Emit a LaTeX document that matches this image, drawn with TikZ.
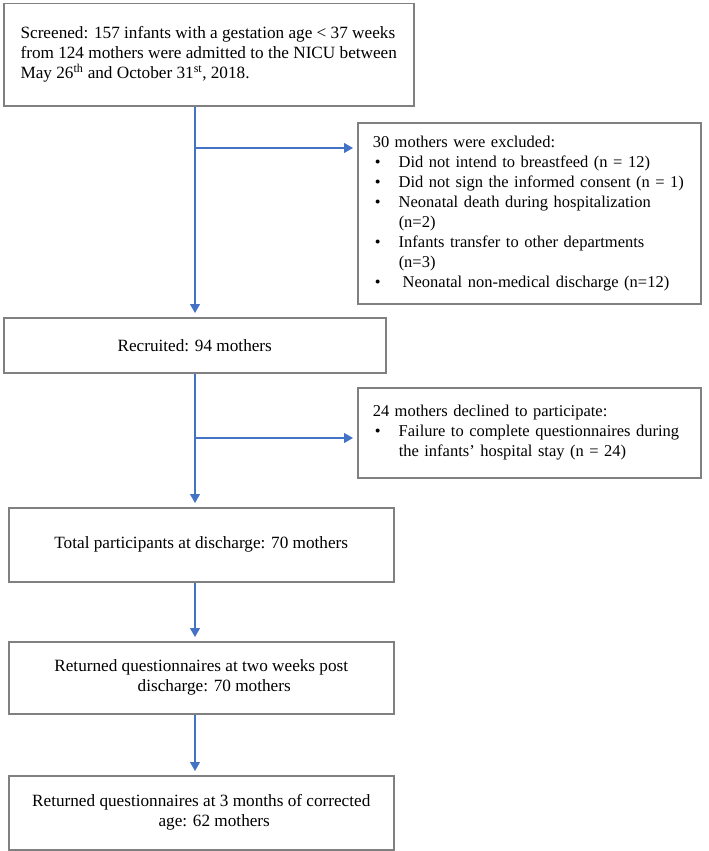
\documentclass[tikz,border=0pt]{standalone}
\usepackage{fontspec}
\setmainfont{Liberation Serif}
\usetikzlibrary{arrows.meta}
\definecolor{arrblue}{RGB}{68,114,196}
\definecolor{boxgray}{RGB}{128,128,128}
\newcommand{\bul}{\makebox[26pt][l]{\hspace{2pt}\textbullet}}
\begin{document}
\begin{tikzpicture}[x=1pt,y=1pt,
  box/.style={draw=boxgray, line width=1.5pt, rectangle, anchor=north west, inner sep=0pt, font=\fontsize{17.2}{20}\selectfont},
  sidebox/.style={box, text width=313pt, inner xsep=15pt, align=left, font=\fontsize{16.5}{20}\selectfont},
  arr/.style={draw=arrblue, line width=1.1pt, -{Triangle[length=9pt,width=10pt]}, shorten >=4pt}]
\useasboundingbox (0,0) rectangle (709,-851);
\node[box, minimum width=410, minimum height=102, align=left] (s) at (3,-3)
  {Screened: 157 infants with a gestation age < 37 weeks\\
   from 124 mothers were admitted to the NICU between\\
   May 26\textsuperscript{th} and October 31\textsuperscript{st}, 2018.};
\node[sidebox, minimum height=181] (ex) at (357,-122)
  {30 mothers were excluded:\\
   \bul Did not intend to breastfeed (n = 12)\\
   \bul Did not sign the informed consent (n = 1)\\
   \bul Neonatal death during hospitalization\\
   \hspace*{26pt}(n=2)\\
   \bul Infants transfer to other departments\\
   \hspace*{26pt}(n=3)\\
   \bul\hspace*{4pt}Neonatal non-medical discharge (n=12)};
\node[box, minimum width=382, minimum height=55, align=center] (r) at (3,-317)
  {Recruited: 94 mothers};
\node[sidebox, minimum height=90] (dc) at (357,-387)
  {24 mothers declined to participate:\\
   \bul Failure to complete questionnaires during\\
   \hspace*{26pt}the infants’ hospital stay (n = 24)};
\node[box, minimum width=385, minimum height=74, align=center] (t) at (8,-507)
  {Total participants at discharge: 70 mothers};
\node[box, minimum width=385, minimum height=72, align=center] (w) at (8,-641)
  {Returned questionnaires at two weeks post\\
   \hspace*{26pt}discharge: 70 mothers};
\node[box, minimum width=385, minimum height=74, align=center] (m) at (8,-775)
  {Returned questionnaires at 3 months of corrected\\
   \hspace*{26pt}age: 62 mothers};
\coordinate (b1) at (195,-148);
\coordinate (b2) at (195,-438);
\draw[arr] (s.south -| b1) -- (r.north -| b1);
\draw[arr] (b1) -- (b1 -| ex.west);
\draw[arr] (r.south -| b2) -- (t.north -| b2);
\draw[arr] (b2) -- (b2 -| dc.west);
\draw[arr] (t.south -| b2) -- (w.north -| b2);
\draw[arr] (w.south -| b2) -- (m.north -| b2);
\end{tikzpicture}
\end{document}
